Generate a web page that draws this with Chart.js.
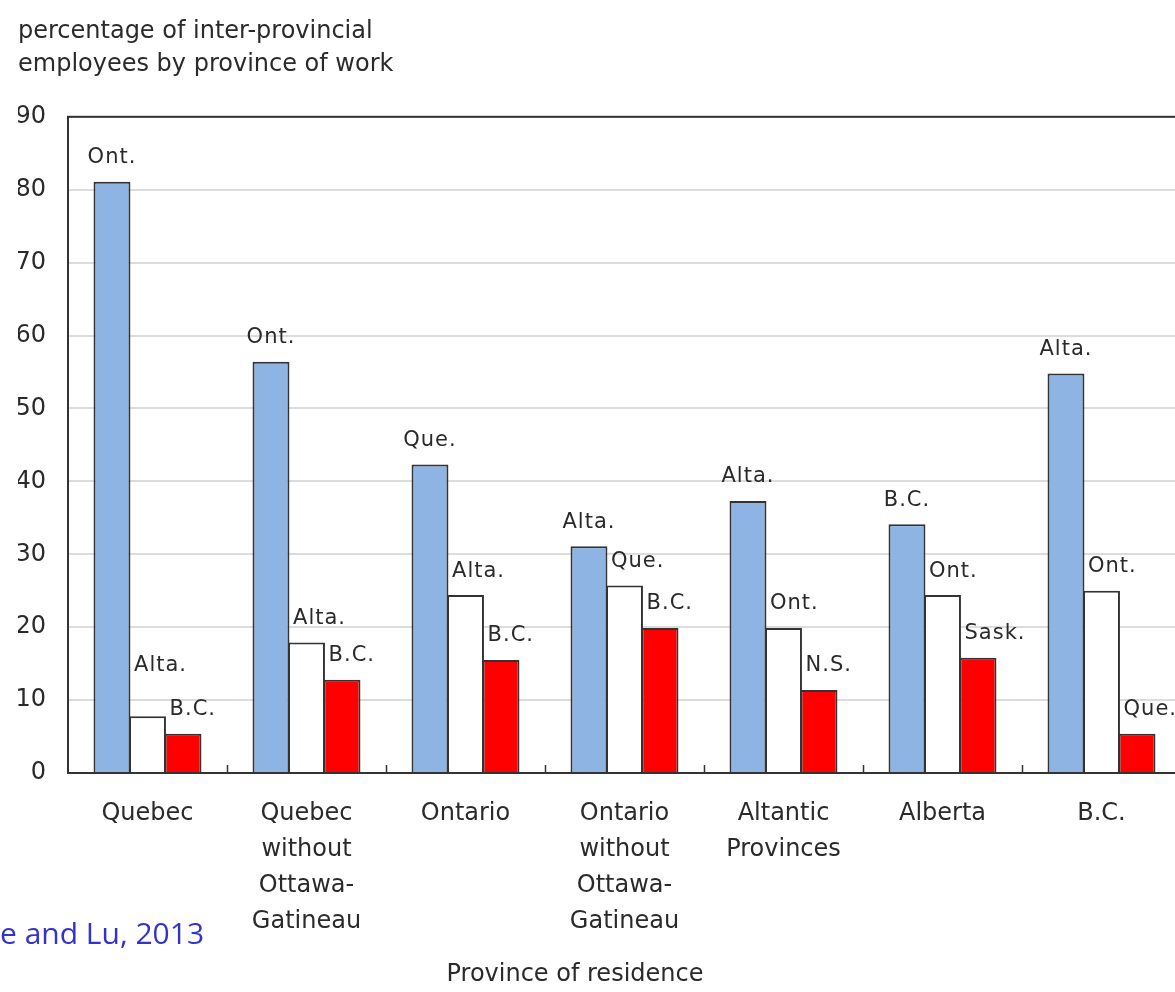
<!DOCTYPE html>
<html>
<head>
<meta charset="utf-8">
<script src="https://cdn.jsdelivr.net/npm/chart.js@4.4.0/dist/chart.umd.min.js"></script>
<style>
  html, body { margin: 0; padding: 0; background: #fff; overflow: hidden; }
  #wrap { position: absolute; left: 0; top: 0; width: 1200px; height: 992px; }
  #source { position: absolute; left: 0; top: 912px; font-family: "Open Sans", sans-serif; font-size: 30px; color: #3333cc; white-space: nowrap; }
</style>
</head>
<body>
<div id="wrap"><canvas id="myChart"></canvas></div>
<div id="source">e and Lu, 2013</div>
<script>
// province of residence along the bottom
var categories = [
    ['Quebec'],
    ['Quebec', 'without', 'Ottawa-', 'Gatineau'],
    ['Ontario'],
    ['Ontario', 'without', 'Ottawa-', 'Gatineau'],
    ['Altantic', 'Provinces'],
    ['Alberta'],
    ['B.C.']
];

// top three provinces of work, % of inter-provincial employees
var firstValues  = [81.1, 56.4, 42.3, 31.1, 37.3, 34.1, 54.8];
var secondValues = [7.8, 17.9, 24.4, 25.7, 19.9, 24.4, 25.0];
var thirdValues  = [5.4, 12.8, 15.5, 19.9, 11.4, 15.8, 5.4];

// which province each bar is
var firstNames  = ['Ont.', 'Ont.', 'Que.', 'Alta.', 'Alta.', 'B.C.', 'Alta.'];
var secondNames = ['Alta.', 'Alta.', 'Alta.', 'Que.', 'Ont.', 'Ont.', 'Ont.'];
var thirdNames  = ['B.C.', 'B.C.', 'B.C.', 'B.C.', 'N.S.', 'Sask.', 'Que.'];

var yTicks = [0, 10, 20, 30, 40, 50, 60, 70, 80, 90];

var FONT = '"DejaVu Sans", sans-serif';
var INK = '#2a2a2a';

// frame round the plot + small ticks between the groups + x title
var framePlugin = {
    id: 'frame',
    afterDraw: function(chart) {
        var ctx = chart.ctx;
        var a = chart.chartArea;
        ctx.save();
        ctx.strokeStyle = '#333333';
        ctx.lineWidth = 2;
        ctx.strokeRect(a.left, a.top, a.right - a.left, a.bottom - a.top);
        var step = (a.right - a.left) / categories.length;
        ctx.beginPath();
        for (var i = 1; i <= categories.length; i++) {
            var px = Math.round(a.left + i * step) + 0.5;
            ctx.moveTo(px, a.bottom);
            ctx.lineTo(px, a.bottom - 8);
        }
        ctx.lineWidth = 1.5;
        ctx.stroke();

        ctx.fillStyle = INK;
        ctx.font = '24px ' + FONT;
        ctx.textAlign = 'center';
        ctx.textBaseline = 'middle';
        ctx.fillText('Province of residence', 575, 975);
        ctx.restore();
    }
};

// province name above each bar
var barLabels = {
    id: 'barLabels',
    afterDatasetsDraw: function(chart) {
        var ctx = chart.ctx;
        ctx.save();
        ctx.font = '21px ' + FONT;
        ctx.letterSpacing = '1px';
        ctx.fillStyle = INK;
        ctx.textBaseline = 'middle';
        ctx.textAlign = 'left';
        var nSets = chart.data.datasets.length;
        for (var i = 0; i < categories.length; i++) {
            var placed = [];
            // right to left so a crowded label climbs over its neighbour
            for (var d = nSets - 1; d >= 0; d--) {
                var bar = chart.getDatasetMeta(d).data[i];
                var txt = chart.data.datasets[d].names[i];
                var w = ctx.measureText(txt).width;
                var left = d === 0 ? bar.x - w / 2 : bar.x - bar.width / 2 + 5;
                var cy = bar.y - 24;
                placed.forEach(function(p) {
                    var hit = left < p.left + p.w && left + w > p.left;
                    if (hit && Math.abs(cy - p.cy) < 24) cy = p.cy - 44;
                });
                placed.push({ left: left, w: w, cy: cy });
                ctx.fillText(txt, left, cy);
            }
        }
        ctx.restore();
    }
};

const ctx = document.getElementById('myChart');
const myChart = new Chart(ctx, {
    type: 'bar',
    data: {
        labels: categories,
        datasets: [{
            data: firstValues,
            names: firstNames,
            backgroundColor: '#8db4e3',
            borderColor: '#333333',
            borderWidth: 2
        }, {
            data: secondValues,
            names: secondNames,
            backgroundColor: '#ffffff',
            borderColor: '#333333',
            borderWidth: 2
        }, {
            data: thirdValues,
            names: thirdNames,
            backgroundColor: '#ff0000',
            borderColor: '#333333',
            borderWidth: 2
        }]
    },
    options: {
        responsive: true,
        maintainAspectRatio: false,
        animation: false,
        datasets: {
            bar: { categoryPercentage: 0.67, barPercentage: 1.04 }
        },
        layout: { padding: { left: 18, right: 19, top: 0, bottom: 0 } },
        plugins: {
            legend: { display: false },
            tooltip: { enabled: false },
            title: {
                display: true,
                text: ['percentage of inter-provincial', 'employees by province of work'],
                align: 'start',
                color: INK,
                font: { family: FONT, size: 24, weight: 'normal', lineHeight: 1.35 },
                padding: { top: 16, bottom: 36 }
            }
        },
        scales: {
            x: {
                grid: { display: false },
                border: { display: false },
                ticks: {
                    color: INK,
                    font: { family: FONT, size: 24, lineHeight: 1.5 },
                    padding: 15,
                    maxRotation: 0,
                    autoSkip: false
                },
                afterFit: function(s) { s.height = 219; }
            },
            y: {
                min: 0,
                max: 90,
                afterBuildTicks: function(s) {
                    s.ticks = yTicks.map(function(v) { return { value: v }; });
                },
                grid: { color: '#dcdcdc', lineWidth: 2, drawTicks: false },
                border: { display: false },
                ticks: {
                    color: INK,
                    font: { family: FONT, size: 24 },
                    padding: 22
                },
                afterFit: function(s) { s.width = 50; }
            }
        }
    },
    plugins: [framePlugin, barLabels]
});
</script>
</body>
</html>
